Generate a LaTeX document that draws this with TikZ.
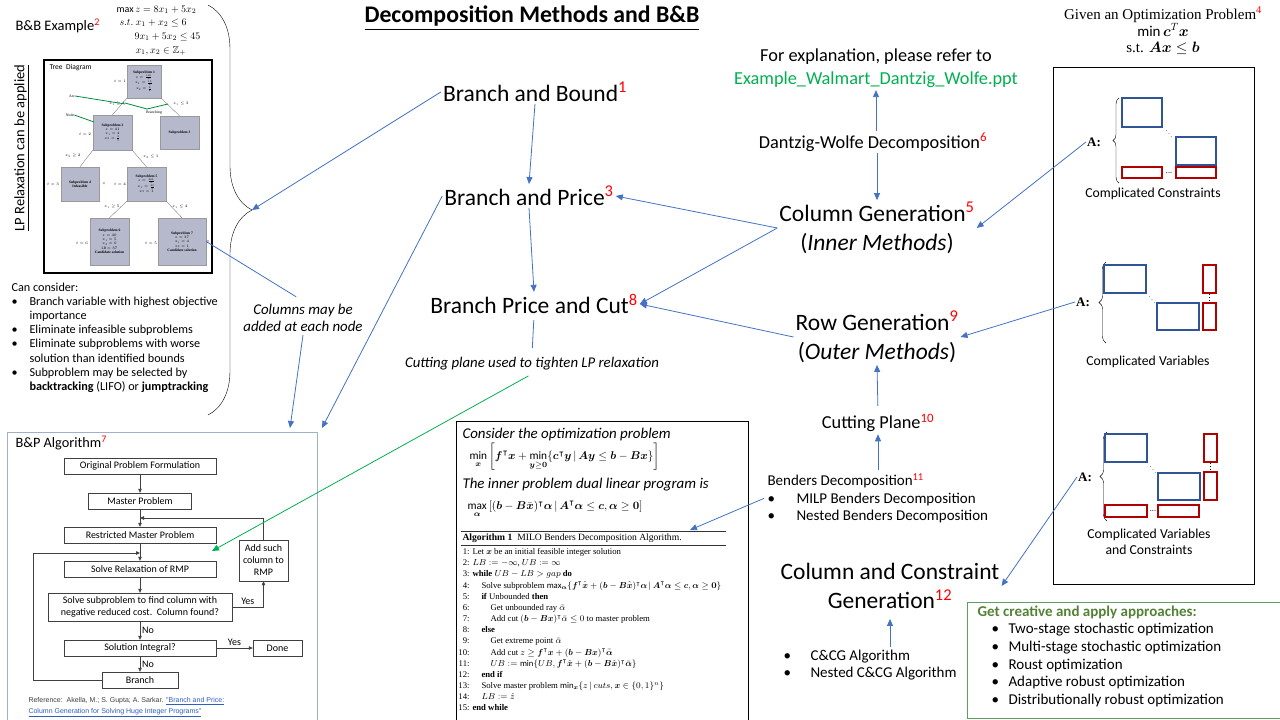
\RequirePackage{fix-cm}
\documentclass[tikz,border=0pt]{standalone}
\usepackage{amsmath}
\usepackage{amssymb}
\usepackage{fontspec}
\setmainfont{Carlito}
\newfontfamily\serffont{Liberation Serif}
\newfontfamily\arialfont{Liberation Sans}
\usetikzlibrary{arrows.meta,decorations.pathreplacing}

\definecolor{arrblue}{HTML}{4472C4}
\definecolor{blkblue}{HTML}{2F5597}
\definecolor{blkred}{HTML}{B00000}
\definecolor{linkgreen}{HTML}{00B050}
\definecolor{boxgreen}{HTML}{5E9E5E}
\definecolor{titlegreen}{HTML}{548235}
\definecolor{treegray}{HTML}{B6B8CB}
\definecolor{bpframe}{HTML}{9FB1C9}
\definecolor{refblue}{HTML}{2E5FC0}

\newcommand{\refnum}[1]{\textsuperscript{\textcolor{red}{#1}}}
\newcommand{\bulitem}[1][18pt]{\makebox[#1][l]{\textbullet}}
\newcommand{\algno}[1]{\makebox[10pt][r]{#1:}\hspace{3pt}}

\tikzset{
	arr/.style={draw=arrblue, line width=0.8pt, -{Triangle[length=7pt,width=6pt]}},
	garr/.style={draw=linkgreen, line width=0.8pt, -{Triangle[length=7pt,width=6pt]}},
	method/.style={font=\fontsize{23.5}{29}\selectfont, align=center, inner sep=2pt},
	midtext/.style={font=\fontsize{18.3}{21}\selectfont, inner sep=2pt},
	flowbox/.style={draw=black!75, fill=white, font=\fontsize{10}{12}\selectfont, minimum height=16, inner sep=1pt, align=center},
	flowarr/.style={draw=black!75, -{Triangle[length=4pt,width=3.5pt]}},
	flowlbl/.style={font=\fontsize{10}{11}\selectfont, inner sep=2pt},
	subp/.style={draw=gray!80, fill=treegray, font=\serffont\fontsize{3.6}{4.3}\selectfont, align=center, inner sep=0.5pt},
	treelbl/.style={font=\serffont\fontsize{3.8}{4.3}\selectfont, inner sep=0pt},
	blublk/.style={draw=blkblue, line width=1.3pt},
	redblk/.style={draw=blkred, line width=1.3pt},
	matlbl/.style={font=\fontsize{13.7}{16}\selectfont, align=center},
	amat/.style={font=\serffont\bfseries\fontsize{13}{15}\selectfont, inner sep=1pt},
}

\begin{document}
\begin{tikzpicture}[x=1pt,y=-1pt]
	\useasboundingbox (0,0) rectangle (1280,720);
	\fill[white] (0,0) rectangle (1280,720);

	\node[font=\bfseries\fontsize{23.8}{28}\selectfont] (title) at (532,18) {\underline{Decomposition Methods and B\&B}};

	% B&B example
	\node[anchor=west, font=\fontsize{14.5}{18}\selectfont] (bbex) at (12,26) {B\&B Example\refnum{2}};
	\node[anchor=west, font=\fontsize{10}{12}\selectfont] (obj) at (113,10) {$\max z = 8x_1 + 5x_2$};
	\node[anchor=west, font=\fontsize{10}{12}\selectfont] (con1) at (116,23) {$s.t.\ x_1 + x_2 \le 6$};
	\node[anchor=west, font=\fontsize{10}{12}\selectfont] (con2) at (131,37) {$9x_1 + 5x_2 \le 45$};
	\node[anchor=west, font=\fontsize{10}{12}\selectfont] (con3) at (132,51) {$x_1, x_2 \in \mathbb{Z}_+$};
	\node[rotate=90, font=\fontsize{14.5}{17}\selectfont] (lprelax) at (22,148) {\underline{LP Relaxation can be applied}};
	\draw[decorate, decoration={brace, amplitude=44pt}] (208,5) -- (208,415);
	\coordinate (bracetip) at (252,210);

	% tree diagram
	\draw[line width=1.1pt] (44,60) rectangle (212,273);
	\node[anchor=west, font=\fontsize{7.5}{9}\selectfont] (treettl) at (46,68) {Tree\ \ Diagram};
	\node[subp, minimum width=34, minimum height=33] (s1) at (144,81.5) {\textbf{Subproblem 1}\\$z=\frac{165}{4}$\\$x_1=\frac{15}{4}$\\$x_2=\frac{9}{4}$};
	\node[subp, minimum width=39, minimum height=35] (s2) at (112.5,132.5) {\textbf{Subproblem 2}\\$z=41$\\$x_1=4$\\$x_2=\frac{9}{5}$};
	\node[subp, minimum width=39, minimum height=33] (s3) at (179.5,132.5) {\textbf{Subproblem 3}};
	\node[subp, minimum width=38, minimum height=34] (s4) at (80,184) {\textbf{Subproblem 4}\\\textbf{Infeasible}};
	\node[subp, minimum width=39, minimum height=34] (s5) at (146.5,184) {\textbf{Subproblem 5}\\$z=\frac{365}{9}$\\$x_1=\frac{40}{9}$\\$x_2=1$};
	\node[subp, minimum width=39, minimum height=47] (s6) at (109.5,241.5) {\textbf{Subproblem 6}\\$z=40$\\$x_1=5$\\$x_2=0$\\LB $=37$\\\textbf{Candidate solution}};
	\node[subp, minimum width=48, minimum height=47] (s7) at (182,241.5) {\textbf{Subproblem 7}\\$z=37$\\$x_1=4$\\$x_2=1$\\\textbf{Candidate solution}};
	\draw[gray] (s1.south west) -- (s2.north);
	\draw[gray] (s1.south east) -- (s3.north);
	\draw[gray] (s2.south west) -- (s4.north);
	\draw[gray] (s2.south east) -- (s5.north);
	\draw[gray] (s5.south west) -- (s6.north);
	\draw[gray] (s5.south east) -- (s7.north);
	\node[treelbl] (t1) at (120,81) {$t=1$};
	\node[treelbl] (t2) at (85,134) {$t=2$};
	\node[treelbl] (t3) at (53,184) {$t=3$};
	\node[treelbl] (t4) at (120,184) {$t=4$};
	\node[treelbl] (t6) at (82,243) {$t=6$};
	\node[treelbl] (t5) at (151,243) {$t=5$};
	\node[treelbl] (x4) at (104,184) {$\times$};
	\node[treelbl] (x7) at (208,242) {$\times$};
	\node[treelbl] (br1) at (117,104) {$x_1\ge4$};
	\node[treelbl] (br2) at (181,104) {$x_1\le3$};
	\node[treelbl] (br3) at (73,156) {$x_2\ge2$};
	\node[treelbl] (br4) at (151,157) {$x_2\le1$};
	\node[treelbl] (br5) at (112,207) {$x_1\ge5$};
	\node[treelbl] (br6) at (180,207) {$x_1\le4$};
	\node[treelbl] (arclbl) at (72,96) {Arc};
	\node[treelbl] (nodelbl) at (70,115) {Node};
	\node[treelbl] (brlbl) at (154,113) {Branching};
	\draw[linkgreen!80!black, line width=0.8pt] (arclbl.east) -- (125,104);
	\draw[linkgreen!80!black, line width=0.8pt] (125,103) -- (147,109) -- (168,104);
	\draw[linkgreen!80!black, line width=0.8pt] (nodelbl.east) -- (94,122);

	\node[anchor=north west, align=left, font=\fontsize{12.2}{14.2}\selectfont] (consider) at (8,279) {Can consider:\\
		\bulitem Branch variable with highest objective\\
		\hspace*{18pt}importance\\
		\bulitem Eliminate infeasible subproblems\\
		\bulitem Eliminate subproblems with worse\\
		\hspace*{18pt}solution than identified bounds\\
		\bulitem Subproblem may be selected by\\
		\hspace*{18pt}\textbf{backtracking} (LIFO) or \textbf{jumptracking}};
	\node[font=\itshape\fontsize{14.9}{16.5}\selectfont, align=center] (colsnote) at (303,318) {Columns may be\\added at each node};

	% B&P algorithm
	\draw[draw=bpframe, line width=0.9pt] (7,724) -- (7,432) -- (317,432) -- (317,724);
	\node[anchor=west, font=\fontsize{14.3}{16}\selectfont] (bptitle) at (12,443) {B\&P Algorithm\refnum{7}};
	\node[flowbox, minimum width=152] (f1) at (140,466) {Original Problem Formulation};
	\node[flowbox, minimum width=103] (f2) at (140,501) {Master Problem};
	\node[flowbox, minimum width=152] (f3) at (140,535) {Restricted Master Problem};
	\node[flowbox, minimum width=152] (f4) at (140,569) {Solve Relaxation of RMP};
	\node[flowbox, minimum width=184, minimum height=28] (f5) at (140,607) {Solve subproblem to find column with\\negative reduced cost.\ \ Column found?};
	\node[flowbox, minimum width=152] (f6) at (140,648) {Solution Integral?};
	\node[flowbox, minimum width=76] (f7) at (140,680) {Branch};
	\node[flowbox, minimum width=49, minimum height=41] (fadd) at (263.5,560.5) {Add such\\column to\\RMP};
	\node[flowbox, minimum width=49] (fdone) at (277.5,648) {Done};
	\coordinate (j1) at (140,518);
	\coordinate (j2) at (140,553);
	\draw[flowarr] (f1) -- (f2);
	\draw[flowarr] (f2) -- (f3);
	\draw[flowarr] (f3) -- (f4);
	\draw[flowarr] (f4) -- (f5);
	\draw[flowarr] (f5) -- node[flowlbl, right] (no1) {No} (f6);
	\draw[flowarr] (f6) -- node[flowlbl, right] (no2) {No} (f7);
	\draw[flowarr] (f6) -- node[flowlbl, above] (yes2) {Yes} (fdone);
	\draw[flowarr] (f5.east) -| node[flowlbl, above, pos=0.25] (yes1) {Yes} (fadd.south);
	\draw[flowarr] (fadd.north) |- (j1);
	\draw[flowarr] (f7.west) -- ++(-69,0) |- (j2);
	\node[anchor=north west, align=left, font=\arialfont\fontsize{7}{10.5}\selectfont, text=black!75] (bpref) at (25,694) {Reference:\ \ Akella, M.; S. Gupta; A. Sarkar. \textcolor{refblue}{\underline{"Branch and Price:}}\\\textcolor{refblue}{\underline{Column Generation for Solving Huge Integer Programs"}}};
	\coordinate (flowtip) at (212,551);
	\coordinate (bptop) at (322,428);
	\coordinate (bptop2) at (290,428);

	% methods
	\node[method] (bb) at (535,92) {Branch and Bound\refnum{1}};
	\node[method] (bp) at (529,196) {Branch and Price\refnum{3}};
	\node[method] (bpc) at (534,304) {Branch Price and Cut\refnum{8}};
	\node[font=\itshape\fontsize{14.8}{16}\selectfont] (cutnote) at (532,364) {Cutting plane used to tighten LP relaxation};
	\node[midtext] (expl) at (876,57) {For explanation, please refer to};
	\node[midtext, text=linkgreen] (link) at (876,80) {Example\_Walmart\_Dantzig\_Wolfe.ppt};
	\node[midtext] (dw) at (873,142) {Dantzig-Wolfe Decomposition\refnum{6}};
	\node[method] (cg) at (877,228) {Column Generation\refnum{5}\\(\textit{Inner Methods})};
	\node[method] (rg) at (877,337) {Row Generation\refnum{9}\\(\textit{Outer Methods})};
	\node[midtext] (cp) at (878,423) {Cutting Plane\refnum{10}};
	\node[anchor=north west, align=left, font=\fontsize{15}{17.5}\selectfont] (benders) at (764,470) {Benders Decomposition\refnum{11}\\
		\bulitem[29pt]MILP Benders Decomposition\\
		\bulitem[29pt]Nested Benders Decomposition};
	\node[method] (ccg) at (890,586) {Column and Constraint\\Generation\refnum{12}};
	\node[anchor=north west, align=left, font=\fontsize{15}{17}\selectfont] (ccgalg) at (780,647) {\bulitem[27pt]C\&CG Algorithm\\
		\bulitem[27pt]Nested C\&CG Algorithm};

	% Benders algorithm box
	\draw[line width=0.9pt] (456,724) -- (456,421) -- (748,421) -- (748,724);
	\node[anchor=west, font=\itshape\fontsize{14.9}{16}\selectfont] (consid) at (459,435) {Consider the optimization problem};
	\node[anchor=west, font=\fontsize{11.3}{13}\selectfont] (primal) at (466,457) {$\min\limits_{\boldsymbol{x}} \left[\boldsymbol{f}^\intercal\boldsymbol{x} + \min\limits_{\boldsymbol{y}\ge\boldsymbol{0}}\{\boldsymbol{c}^\intercal\boldsymbol{y} \,|\, \boldsymbol{A}\boldsymbol{y} \le \boldsymbol{b} - \boldsymbol{B}\boldsymbol{x}\}\right]$};
	\node[anchor=west, font=\itshape\fontsize{14.9}{16}\selectfont] (innerdual) at (459,485) {The inner problem dual linear program is};
	\node[anchor=west, font=\fontsize{11.3}{13}\selectfont] (dual) at (464,509) {$\max\limits_{\boldsymbol{\alpha}} \left[(\boldsymbol{b} - \boldsymbol{B}\bar{\boldsymbol{x}})^\intercal\boldsymbol{\alpha} \,|\, \boldsymbol{A}^\intercal\boldsymbol{\alpha} \le \boldsymbol{c}, \boldsymbol{\alpha} \ge \boldsymbol{0}\right]$};
	\draw[line width=1pt, black!80] (461,531) -- (726,531);
	\node[anchor=west, font=\serffont\fontsize{9.6}{10}\selectfont] (algttl) at (459,538) {\textbf{Algorithm 1}\hspace{5pt}MILO Benders Decomposition Algorithm.};
	\draw[line width=0.5pt, black!80] (461,545) -- (726,545);
	\node[anchor=north west, align=left, font=\serffont\fontsize{8.7}{11.15}\selectfont] (alglines) at (456,545) {\algno{1}Let $\boldsymbol{x}$ be an initial feasible integer solution\\
		\algno{2}$LB := -\infty$, $UB := \infty$\\
		\algno{3}\textbf{while} $UB - LB > gap$ \textbf{do}\\
		\algno{4}\hspace{9pt}Solve subproblem $\max_{\boldsymbol{\alpha}}\{\boldsymbol{f}^\intercal\hat{\boldsymbol{x}} + (\boldsymbol{b} - \boldsymbol{B}\hat{\boldsymbol{x}})^\intercal\boldsymbol{\alpha} \,|\, \boldsymbol{A}^\intercal\boldsymbol{\alpha} \le \boldsymbol{c}, \boldsymbol{\alpha} \ge \boldsymbol{0}\}$\\
		\algno{5}\hspace{9pt}\textbf{if} Unbounded \textbf{then}\\
		\algno{6}\hspace{18pt}Get unbounded ray $\bar{\alpha}$\\
		\algno{7}\hspace{18pt}Add cut $(\boldsymbol{b} - \boldsymbol{B}\boldsymbol{x})^\intercal\bar{\alpha} \le 0$ to master problem\\
		\algno{8}\hspace{9pt}\textbf{else}\\
		\algno{9}\hspace{18pt}Get extreme point $\bar{\alpha}$\\
		\algno{10}\hspace{18pt}Add cut $z \ge \boldsymbol{f}^\intercal\boldsymbol{x} + (\boldsymbol{b} - \boldsymbol{B}\boldsymbol{x})^\intercal\bar{\boldsymbol{\alpha}}$\\
		\algno{11}\hspace{18pt}$UB := \min\{UB, \boldsymbol{f}^\intercal\hat{\boldsymbol{x}} + (\boldsymbol{b} - \boldsymbol{B}\hat{\boldsymbol{x}})^\intercal\bar{\boldsymbol{\alpha}}\}$\\
		\algno{12}\hspace{9pt}\textbf{end if}\\
		\algno{13}\hspace{9pt}Solve master problem $\min_{\boldsymbol{x}}\{z \,|\, cuts, \boldsymbol{x} \in \{0,1\}^n\}$\\
		\algno{14}\hspace{9pt}$LB := \hat{z}$\\
		\algno{15}\textbf{end while}};
	\coordinate (algtip) at (690,530);

	% problem and matrices
	\node[align=center, font=\serffont\fontsize{15}{16.8}\selectfont] (given) at (1163,31) {Given an Optimization Problem\refnum{4}\\$\min \boldsymbol{c}^T\boldsymbol{x}$\\s.t. $\boldsymbol{Ax} \le \boldsymbol{b}$};
	\draw[line width=0.9pt] (1053,67) rectangle (1254,584);

	\node[amat] (amat1) at (1094,142) {A:};
	\draw[decorate, decoration={brace, amplitude=6pt}] (1119,183) -- (1119,98);
	\draw[blublk] (1122,98) rectangle (1162,127);
	\draw[blublk] (1176,137) rectangle (1216,165);
	\draw[redblk] (1122,167) rectangle (1162,178);
	\draw[redblk] (1176,167) rectangle (1216,178);
	\node[font=\fontsize{6}{6}\selectfont, inner sep=0pt] (dg1) at (1169,131) {$\ddots$};
	\node[font=\fontsize{8}{8}\selectfont, inner sep=0pt] (hd1) at (1169,173) {...};
	\node[matlbl] (lbl1) at (1153,194) {Complicated Constraints};

	\node[amat] (amat2) at (1083,302) {A:};
	\draw[decorate, decoration={brace, amplitude=7pt}] (1106,343) -- (1106,262);
	\draw[blublk] (1104,265) rectangle (1146,293);
	\draw[blublk] (1157,303) rectangle (1199,330);
	\draw[redblk] (1203,265) rectangle (1216,293);
	\draw[redblk] (1203,303) rectangle (1216,330);
	\draw[dotted, thick] (1209.5,294) -- (1209.5,302);
	\node[font=\fontsize{6}{6}\selectfont, inner sep=0pt] (dg2) at (1152,297) {$\ddots$};
	\node[matlbl] (lbl2) at (1148,362) {Complicated Variables};

	\node[amat] (amat3) at (1085,477) {A:};
	\draw[decorate, decoration={brace, amplitude=7pt}] (1107,521) -- (1107,432);
	\draw[blublk] (1105,434) rectangle (1147,462);
	\draw[blublk] (1158,473) rectangle (1200,500);
	\draw[redblk] (1204,434) rectangle (1217,462);
	\draw[redblk] (1204,472) rectangle (1217,500);
	\draw[redblk] (1105,505) rectangle (1147,517);
	\draw[redblk] (1158,505) rectangle (1199,517);
	\draw[dotted, thick] (1210.5,463) -- (1210.5,471);
	\node[font=\fontsize{6}{6}\selectfont, inner sep=0pt] (dg3) at (1153,467) {$\ddots$};
	\node[font=\fontsize{8}{8}\selectfont, inner sep=0pt] (hd3) at (1153,511) {...};
	\node[matlbl] (lbl3) at (1149,542) {Complicated Variables\\and Constraints};

	% approaches
	\draw[draw=boxgreen, line width=0.9pt] (1284,602) -- (967,602) -- (967,718) -- (1284,718);
	\node[anchor=north west, align=left, font=\fontsize{15}{17.7}\selectfont] (approaches) at (974,602) {\textcolor{titlegreen}{\textbf{Get creative and apply approaches:}}\\
		\hspace*{14pt}\bulitem[17pt]Two-stage stochastic optimization\\
		\hspace*{14pt}\bulitem[17pt]Multi-stage stochastic optimization\\
		\hspace*{14pt}\bulitem[17pt]Roust optimization\\
		\hspace*{14pt}\bulitem[17pt]Adaptive robust optimization\\
		\hspace*{14pt}\bulitem[17pt]Distributionally robust optimization};

	% connectors
	\draw[arr] (bb.west) -- (bracetip);
	\draw[arr] (bb.south) -- (bp.north);
	\draw[arr] (bp.south) -- (bpc.north);
	\draw[draw=arrblue, line width=0.8pt, shorten <=4pt, shorten >=6pt] (bpc.south) -- (cutnote.north);
	\draw[garr, shorten <=4pt] (cutnote.south) -- (flowtip);
	\draw[arr] (bp.west) -- (bptop);
	\draw[arr] (colsnote.south) -- (bptop2);
	\draw[draw=arrblue, line width=0.8pt, shorten <=8pt] (colsnote.north) -- (s7.east);
	\draw[arr] (dw.north -| link.south) -- (link.south);
	\draw[arr] (dw.south -| cg.north) -- (cg.north);
	\draw[arr] (cg.west) -- (bp.east);
	\draw[arr] (cg.west) -- (bpc.east);
	\draw[arr] (rg.west) -- (bpc.east);
	\draw[arr, shorten <=6pt] (cp.north) -- (rg.south);
	\draw[arr] (benders.north -| cp.south) -- (cp.south);
	\draw[arr] (benders.west) -- (algtip);
	\draw[arr, shorten >=8pt] (ccgalg.north -| ccg.south) -- (ccg.south);
	\draw[arr] (amat1.west) -- (cg.east);
	\draw[arr] (amat2.west) -- (rg.east);
	\draw[arr] (amat3.west) -- (ccg.east);
\end{tikzpicture}
\end{document}
